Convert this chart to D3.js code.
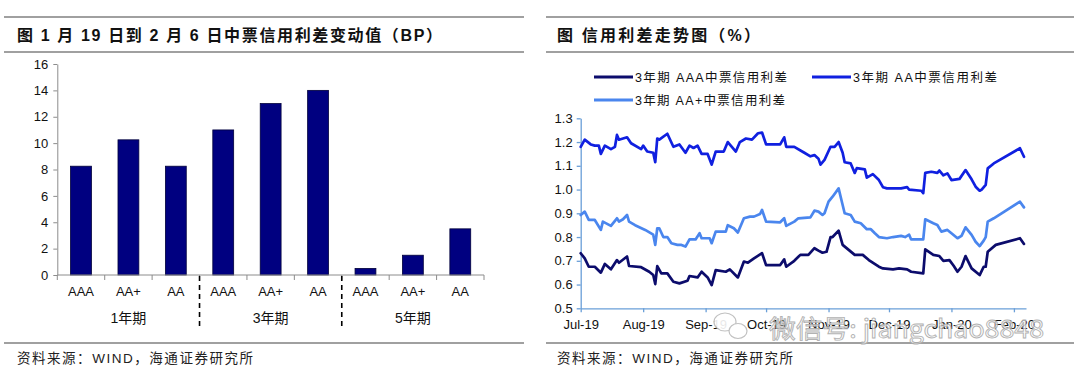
<!DOCTYPE html>
<html><head><meta charset="utf-8">
<script src="https://cdn.jsdelivr.net/npm/d3@7"></script>
<style>body{margin:0;background:#fff;} svg{display:block;}</style>
</head><body><svg id="c" width="1080" height="379"></svg>
<script>
// ---------- data ----------
const barCategories = ["AAA","AA+","AA","AAA","AA+","AA","AAA","AA+","AA"];
const barGroups = ["1年期","3年期","5年期"];
const barValues = [8.25,10.25,8.25,11,13,14,0.5,1.5,3.5];
const barTicks = [0,2,4,6,8,10,12,14,16];

const lineTicks = [0.5,0.6,0.7,0.8,0.9,1.0,1.1,1.2,1.3];
const seriesNames = ["3年期 AAA中票信用利差","3年期 AA中票信用利差","3年期 AA+中票信用利差"];

const seriesAAA = [
["2019-07-01",0.732],["2019-07-03",0.71],["2019-07-05",0.675],["2019-07-08",0.675],["2019-07-11",0.65],
["2019-07-13",0.687],["2019-07-16",0.664],["2019-07-19",0.703],["2019-07-20",0.692],["2019-07-24",0.718],
["2019-07-25",0.678],["2019-07-31",0.673],["2019-08-04",0.654],["2019-08-06",0.64],["2019-08-07",0.602],
["2019-08-08",0.678],["2019-08-10",0.647],["2019-08-13",0.647],["2019-08-16",0.612],["2019-08-19",0.605],
["2019-08-23",0.616],["2019-08-24",0.636],["2019-08-28",0.63],["2019-08-30",0.654],["2019-09-02",0.63],
["2019-09-04",0.598],["2019-09-06",0.661],["2019-09-11",0.654],["2019-09-13",0.664],["2019-09-17",0.63],
["2019-09-20",0.697],["2019-09-22",0.692],["2019-09-25",0.71],["2019-09-29",0.732],["2019-10-01",0.682],
["2019-10-08",0.682],["2019-10-10",0.706],["2019-10-11",0.675],["2019-10-15",0.70],["2019-10-18",0.725],
["2019-10-22",0.725],["2019-10-25",0.753],["2019-10-27",0.743],["2019-10-29",0.734],["2019-10-31",0.738],
["2019-11-02",0.80],["2019-11-03",0.80],["2019-11-06",0.827],["2019-11-08",0.767],["2019-11-11",0.746],
["2019-11-14",0.725],["2019-11-18",0.725],["2019-11-21",0.703],["2019-11-26",0.675],["2019-11-28",0.668],
["2019-12-03",0.664],["2019-12-06",0.668],["2019-12-10",0.664],["2019-12-12",0.654],["2019-12-18",0.647],
["2019-12-19",0.748],["2019-12-23",0.725],["2019-12-26",0.72],["2019-12-28",0.70],["2019-12-31",0.703],
["2020-01-02",0.68],["2020-01-04",0.654],["2020-01-06",0.675],["2020-01-08",0.72],["2020-01-11",0.668],
["2020-01-15",0.64],["2020-01-17",0.675],["2020-01-18",0.675],["2020-01-19",0.738],["2020-01-23",0.767],
["2020-02-04",0.795],["2020-02-06",0.771]
];
const seriesAA = [
["2019-07-01",1.18],["2019-07-03",1.21],["2019-07-06",1.19],["2019-07-08",1.185],["2019-07-10",1.185],
["2019-07-11",1.15],["2019-07-13",1.185],["2019-07-16",1.17],["2019-07-18",1.18],["2019-07-19",1.23],
["2019-07-20",1.21],["2019-07-24",1.22],["2019-07-26",1.195],["2019-07-31",1.17],["2019-08-01",1.185],
["2019-08-03",1.16],["2019-08-06",1.155],["2019-08-07",1.115],["2019-08-08",1.215],["2019-08-09",1.21],
["2019-08-13",1.235],["2019-08-16",1.18],["2019-08-19",1.19],["2019-08-22",1.155],["2019-08-24",1.185],
["2019-08-26",1.175],["2019-08-28",1.185],["2019-08-30",1.15],["2019-09-02",1.15],["2019-09-04",1.105],
["2019-09-06",1.16],["2019-09-10",1.16],["2019-09-12",1.20],["2019-09-16",1.16],["2019-09-18",1.20],
["2019-09-21",1.215],["2019-09-24",1.21],["2019-09-27",1.237],["2019-09-29",1.24],["2019-10-01",1.19],
["2019-10-08",1.19],["2019-10-10",1.22],["2019-10-11",1.18],["2019-10-15",1.18],["2019-10-20",1.155],
["2019-10-23",1.14],["2019-10-25",1.145],["2019-10-27",1.13],["2019-10-28",1.105],["2019-10-30",1.125],
["2019-11-02",1.18],["2019-11-04",1.18],["2019-11-06",1.20],["2019-11-08",1.155],["2019-11-09",1.115],
["2019-11-12",1.11],["2019-11-14",1.07],["2019-11-15",1.09],["2019-11-19",1.085],["2019-11-20",1.05],
["2019-11-23",1.065],["2019-11-26",1.04],["2019-11-28",1.01],["2019-11-30",1.005],["2019-12-07",1.005],
["2019-12-10",1.01],["2019-12-11",1.0],["2019-12-17",0.995],["2019-12-18",0.985],["2019-12-19",1.07],
["2019-12-22",1.075],["2019-12-25",1.07],["2019-12-26",1.08],["2019-12-28",1.06],["2019-12-30",1.068],
["2020-01-01",1.04],["2020-01-05",1.045],["2020-01-08",1.082],["2020-01-11",1.043],["2020-01-13",1.012],
["2020-01-15",0.995],["2020-01-16",1.0],["2020-01-18",1.02],["2020-01-19",1.089],["2020-01-22",1.11],
["2020-02-04",1.174],["2020-02-06",1.138]
];
const seriesAAplus = [
["2019-07-01",0.893],["2019-07-03",0.907],["2019-07-05",0.872],["2019-07-08",0.872],["2019-07-11",0.83],
["2019-07-12",0.865],["2019-07-16",0.847],["2019-07-19",0.879],["2019-07-20",0.865],["2019-07-22",0.875],
["2019-07-24",0.893],["2019-07-25",0.865],["2019-07-28",0.85],["2019-08-02",0.83],["2019-08-06",0.81],
["2019-08-07",0.767],["2019-08-08",0.837],["2019-08-09",0.837],["2019-08-11",0.80],["2019-08-13",0.80],
["2019-08-15",0.774],["2019-08-18",0.767],["2019-08-20",0.767],["2019-08-22",0.76],["2019-08-24",0.79],
["2019-08-27",0.79],["2019-08-29",0.816],["2019-08-30",0.795],["2019-09-03",0.795],["2019-09-04",0.774],
["2019-09-06",0.823],["2019-09-11",0.823],["2019-09-12",0.85],["2019-09-15",0.837],["2019-09-17",0.819],
["2019-09-20",0.879],["2019-09-23",0.886],["2019-09-25",0.886],["2019-09-28",0.897],["2019-09-29",0.914],
["2019-10-01",0.865],["2019-10-08",0.862],["2019-10-10",0.879],["2019-10-11",0.847],["2019-10-15",0.865],
["2019-10-17",0.879],["2019-10-23",0.883],["2019-10-25",0.911],["2019-10-27",0.907],["2019-10-29",0.893],
["2019-10-30",0.90],["2019-11-01",0.949],["2019-11-03",0.97],["2019-11-06",1.005],["2019-11-08",0.935],
["2019-11-09",0.90],["2019-11-12",0.893],["2019-11-14",0.865],["2019-11-17",0.858],["2019-11-20",0.833],
["2019-11-22",0.833],["2019-11-24",0.816],["2019-11-26",0.80],["2019-11-30",0.795],["2019-12-03",0.80],
["2019-12-07",0.805],["2019-12-09",0.80],["2019-12-11",0.81],["2019-12-12",0.79],["2019-12-18",0.79],
["2019-12-19",0.875],["2019-12-23",0.858],["2019-12-25",0.851],["2019-12-27",0.823],["2019-12-30",0.83],
["2020-01-01",0.816],["2020-01-04",0.795],["2020-01-06",0.805],["2020-01-08",0.841],["2020-01-11",0.809],
["2020-01-13",0.78],["2020-01-15",0.762],["2020-01-17",0.785],["2020-01-18",0.80],["2020-01-19",0.865],
["2020-01-22",0.879],["2020-02-04",0.949],["2020-02-06",0.925]
];
const leftTitle = "图 1 月 19 日到 2 月 6 日中票信用利差变动值（BP）";
const rightTitle = "图 信用利差走势图（%）";
const sourceText = "资料来源：WIND，海通证券研究所";
const watermark = "微信号: jiangchao8848";

// ---------- drawing ----------
const svg = d3.select("#c");
const LAT = "'Liberation Sans', Arial, 'Noto Sans CJK SC', sans-serif";
const CJK = "'Liberation Sans', 'Noto Sans CJK SC', sans-serif";

// panel rules
[[4,524],[546,1074]].forEach(([a,b]) => {
  [17,52,343].forEach(y => svg.append("line")
    .attr("x1",a).attr("x2",b).attr("y1",y).attr("y2",y)
    .attr("stroke","#808080").attr("stroke-width",1.6));
});

// titles
svg.append("text").attr("x",17).attr("y",41).text(leftTitle)
  .attr("font-family",CJK).attr("font-weight","bold").attr("font-size",16)
  .attr("textLength",425).attr("lengthAdjust","spacing").attr("fill","#111");
svg.append("text").attr("x",557).attr("y",41).text(rightTitle)
  .attr("font-family",CJK).attr("font-weight","bold").attr("font-size",16)
  .attr("textLength",203).attr("lengthAdjust","spacing").attr("fill","#111");

// source lines
[17,557].forEach(x => svg.append("text").attr("x",x).attr("y",363).text(sourceText)
  .attr("font-family",CJK).attr("font-size",13.5).attr("fill","#222")
  .attr("textLength",236).attr("lengthAdjust","spacing"));

// ===== left bar chart =====
const xb = d3.scaleBand().domain(d3.range(barValues.length)).range([57.3,484])
  .paddingInner(0.56).paddingOuter(0.28);
const yb = d3.scaleLinear().domain([0,16]).range([275,64]);

const gyL = svg.append("g").attr("transform","translate(57.3,0)")
  .call(d3.axisLeft(yb).tickValues(barTicks).tickSize(4).tickSizeOuter(0).tickPadding(5));
gyL.selectAll("path,line").attr("stroke","#8c8c8c");
gyL.selectAll("text").attr("font-family",LAT).attr("font-size",13).attr("fill","#111");

svg.append("g").selectAll("rect").data(barValues).join("rect")
  .attr("x",(d,i)=>xb(i)).attr("width",xb.bandwidth())
  .attr("y",d=>yb(d)).attr("height",d=>yb(0)-yb(d))
  .attr("fill","#000080").attr("stroke","#00003a").attr("stroke-width",0.8);

// x axis (labels via d3 axis)
const gxL = svg.append("g").attr("transform","translate(0,275)")
  .call(d3.axisBottom(xb).tickFormat(i=>barCategories[i]).tickSize(0).tickPadding(12));
gxL.select(".domain").remove();
gxL.selectAll("text").attr("font-family",LAT).attr("font-size",13).attr("fill","#111");
const x0 = xb.range()[0], step = xb.step();
svg.append("line").attr("x1",x0).attr("x2",xb.range()[1]).attr("y1",275).attr("y2",275)
  .attr("stroke","#8c8c8c").attr("stroke-width",1);
svg.append("g").selectAll("line").data(d3.range(barValues.length+1)).join("line")
  .attr("x1",i=>x0+i*step).attr("x2",i=>x0+i*step).attr("y1",275).attr("y2",280)
  .attr("stroke","#8c8c8c");
// dashed group separators
[3,6].forEach(i => svg.append("line")
  .attr("x1",x0+i*step).attr("x2",x0+i*step).attr("y1",276).attr("y2",328)
  .attr("stroke","#000").attr("stroke-width",1.6).attr("stroke-dasharray","5,4"));
// group labels
barGroups.forEach((g,k) => svg.append("text")
  .attr("x",xb(k*3+1)+xb.bandwidth()/2).attr("y",323).attr("text-anchor","middle")
  .attr("font-family",CJK).attr("font-size",14).attr("fill","#111").text(g));

// ===== right line chart =====
const parse = d3.timeParse("%Y-%m-%d");
const xt = d3.scaleTime().domain([new Date(2019,6,1), new Date(2020,1,7)]).range([580.7,1026]);
const yt = d3.scaleLinear().domain([0.5,1.3]).range([308.3,118.3]);
const axisCol = "#6a9fd8";

const gyR = svg.append("g").attr("transform","translate(580.7,0)")
  .call(d3.axisLeft(yt).tickValues(lineTicks).tickFormat(d3.format(".1f")).tickSize(4).tickSizeOuter(0).tickPadding(4));
gyR.selectAll("path,line").attr("stroke",axisCol).attr("stroke-width",1.3);
gyR.selectAll("text").attr("font-family",LAT).attr("font-size",13).attr("fill","#111");

const gxR = svg.append("g").attr("transform","translate(0,308.3)")
  .call(d3.axisBottom(xt).ticks(d3.timeMonth.every(1)).tickFormat(d3.timeFormat("%b-%y"))
    .tickSize(4).tickSizeOuter(0).tickPadding(7));
gxR.selectAll("path,line").attr("stroke",axisCol).attr("stroke-width",1.3);
gxR.selectAll("text").attr("font-family",LAT).attr("font-size",13).attr("fill","#111");

const lineGen = d3.line().x(d=>xt(parse(d[0]))).y(d=>yt(d[1]));
const seriesList = [seriesAAA, seriesAA, seriesAAplus];
const colors = ["#0c0c6c","#1020e0","#4a86ee"];
seriesList.forEach((s,i) => svg.append("path").attr("d",lineGen(s))
  .attr("fill","none").attr("stroke",colors[i]).attr("stroke-width",2.7)
  .attr("stroke-linejoin","round").attr("stroke-linecap","round"));

// legend
const legendPos = [[594,77,152],[812,77,144],[594,100,150]];
seriesNames.forEach((n,i) => {
  const [lx,ly,tl] = legendPos[i];
  svg.append("line").attr("x1",lx).attr("x2",lx+39).attr("y1",ly).attr("y2",ly)
    .attr("stroke",colors[i]).attr("stroke-width",3);
  svg.append("text").attr("x",lx+41).attr("y",ly+4.5).text(n)
    .attr("font-family",CJK).attr("font-size",12.5).attr("fill","#111")
    .attr("textLength",tl).attr("lengthAdjust","spacing");
});

// watermark
const wm = svg.append("g").attr("opacity",0.9);
wm.append("ellipse").attr("cx",725).attr("cy",322).attr("rx",11).attr("ry",9)
  .attr("fill","#fff").attr("stroke","#bbb").attr("stroke-width",1.2);
wm.append("ellipse").attr("cx",738).attr("cy",331).attr("rx",9).attr("ry",7.5)
  .attr("fill","#fff").attr("stroke","#bbb").attr("stroke-width",1.2);
wm.append("text").attr("x",769).attr("y",338).text(watermark)
  .attr("font-family","'Noto Sans CJK SC', 'Liberation Sans', sans-serif").attr("font-size",25)
  .attr("fill","#fff").attr("fill-opacity",0.85).attr("stroke","#aaa").attr("stroke-width",0.9)
  .attr("textLength",275).attr("lengthAdjust","spacingAndGlyphs");
</script></body></html>
